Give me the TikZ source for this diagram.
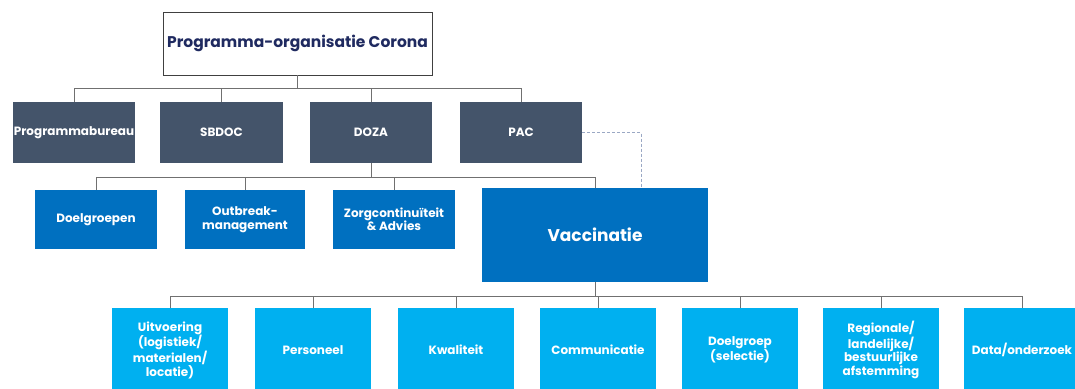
\documentclass[tikz,border=0pt]{standalone}
\usepackage{fontspec}
\setmainfont{Poppins}
\definecolor{slate}{HTML}{44546A}
\definecolor{midblue}{HTML}{0070C0}
\definecolor{lightblue}{HTML}{00B0F0}
\definecolor{navy}{HTML}{1F2A60}
\definecolor{linegrey}{HTML}{707070}
\definecolor{dashgrey}{HTML}{9AA8C4}
\tikzset{
  unitbox/.style={fill=#1,text=white,align=center,inner sep=1pt,
    font=\bfseries\fontsize{12}{13.5}\selectfont},
  link/.style={draw=linegrey,line width=0.8pt},
}
\begin{document}
\begin{tikzpicture}[x=1pt,y=-1pt]
    \useasboundingbox[fill=white] (0,0) rectangle (1075,388);
    %% top
    \node[draw=black!75,line width=0.8pt,minimum width=269pt,minimum height=63pt,text=navy,
          font=\bfseries\fontsize{15.5}{17}\selectfont] (corona) at (297.5,43.5) {Programma-organisatie Corona};
    %% second row
    \node[unitbox=slate,minimum width=122pt,minimum height=61pt,font=\bfseries\fontsize{12}{13}\selectfont] (bureau) at (74,132.5) {Programmabureau};
    \node[unitbox=slate,minimum width=123pt,minimum height=61pt,font=\bfseries\fontsize{12}{13}\selectfont] (sbdoc) at (221.5,132.5) {SBDOC};
    \node[unitbox=slate,minimum width=122pt,minimum height=61pt,font=\bfseries\fontsize{12}{13}\selectfont] (doza) at (371,132.5) {DOZA};
    \node[unitbox=slate,minimum width=122pt,minimum height=61pt,font=\bfseries\fontsize{12}{13}\selectfont] (pac) at (521,132.5) {PAC};
    \coordinate (bus1) at (297.5,88);
    \draw[link,line width=1.2pt] (corona.south) -- (bus1);
    \draw[link] (bus1) -| (bureau.north);
    \draw[link] (bus1) -| (sbdoc.north);
    \draw[link] (bus1) -| (doza.north);
    \draw[link] (bus1) -| (pac.north);
    %% DOZA
    \node[unitbox=midblue,minimum width=122pt,minimum height=59pt] (doelgr) at (96,219.5) {Doelgroepen};
    \node[unitbox=midblue,minimum width=120pt,minimum height=59pt] (outbreak) at (245,219.5) {Outbreak-\\management};
    \node[unitbox=midblue,minimum width=122pt,minimum height=59pt] (zorg) at (394,219.5) {Zorgcontinuïteit\\\& Advies};
    \node[unitbox=midblue,minimum width=226pt,minimum height=94pt,
          font=\bfseries\fontsize{17}{19}\selectfont] (vacc) at (595,235) {Vaccinatie};
    \coordinate (bus2) at (371,177);
    \draw[link] (doza.south) -- (bus2);
    \draw[link] (bus2) -| (doelgr.north);
    \draw[link] (bus2) -| (outbreak.north);
    \draw[link] (bus2) -| (zorg.north);
    \draw[link] (bus2) -| (vacc.north);
    %% PAC dotted to Vaccinatie
    \coordinate (pacvacc) at (641,188);
    \draw[dashgrey,line width=1pt,dash pattern=on 3pt off 2pt] (pac.east) -| (pacvacc);
    %% Vaccinatie
    \node[unitbox=lightblue,minimum width=116pt,minimum height=84pt] (uitv) at (170,350) {Uitvoering\\(logistiek/\\materialen/\\locatie)};
    \node[unitbox=lightblue,minimum width=116pt,minimum height=84pt] (pers) at (313,350) {Personeel};
    \node[unitbox=lightblue,minimum width=116pt,minimum height=84pt] (kwal) at (456,350) {Kwaliteit};
    \node[unitbox=lightblue,minimum width=116pt,minimum height=84pt] (comm) at (598,350) {Communicatie};
    \node[unitbox=lightblue,minimum width=116pt,minimum height=84pt] (selectie) at (740,350) {Doelgroep\\(selectie)};
    \node[unitbox=lightblue,minimum width=116pt,minimum height=84pt] (regio) at (881,350) {Regionale/\\landelijke/\\bestuurlijke\\afstemming};
    \node[unitbox=lightblue,minimum width=116pt,minimum height=84pt] (data) at (1022,350) {Data/onderzoek};
    \coordinate (bus3) at (595,296);
    \draw[link] (vacc.south) -- (bus3);
    \foreach \n in {uitv,pers,kwal,comm,selectie,regio,data}
        \draw[link] (bus3) -| (\n.north);
\end{tikzpicture}
\end{document}
